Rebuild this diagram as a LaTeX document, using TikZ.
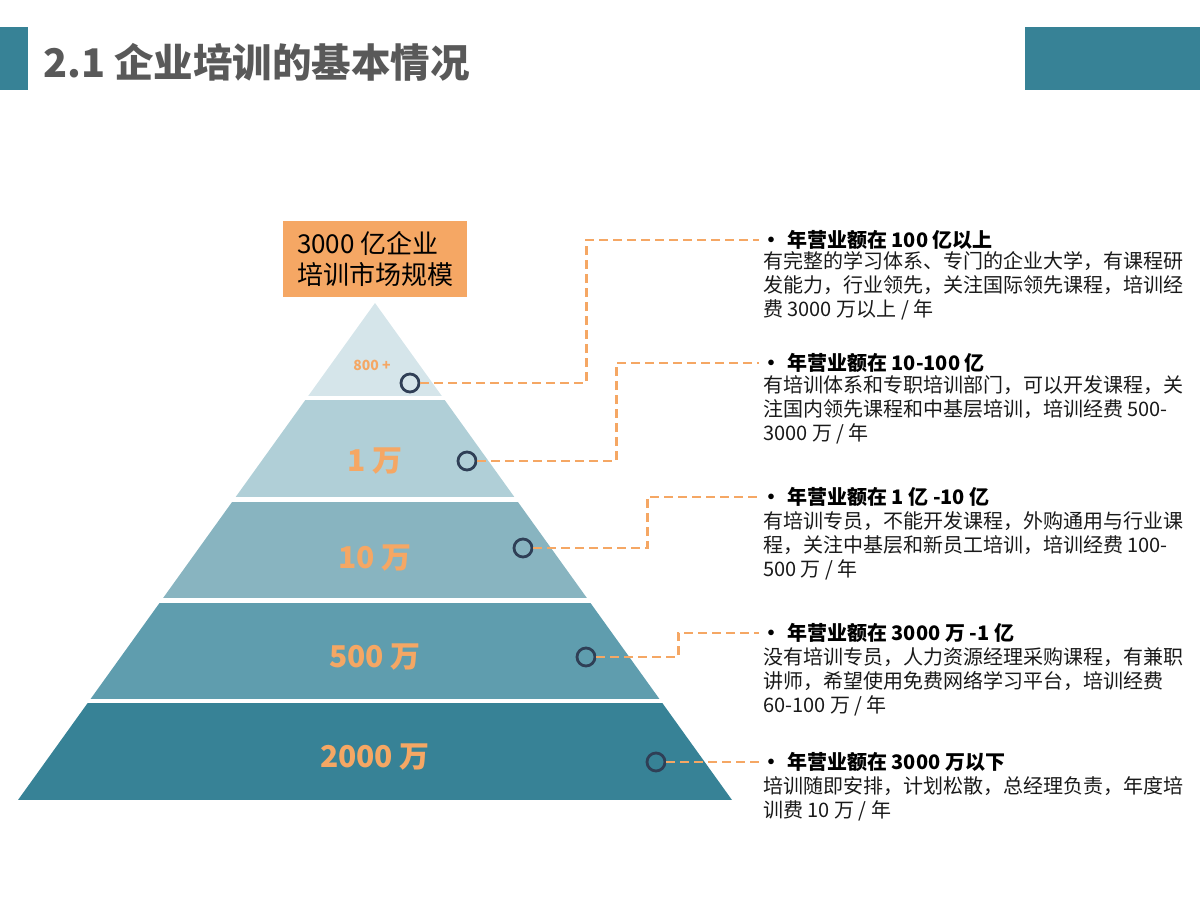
\documentclass[tikz,border=0pt]{standalone}
\usepackage{fontspec}
\setmainfont{Noto Sans CJK SC}
\usetikzlibrary{positioning}

\definecolor{bardeep}{RGB}{55,130,150}
\definecolor{tierA}{RGB}{213,229,234}
\definecolor{tierB}{RGB}{176,207,215}
\definecolor{tierC}{RGB}{136,180,192}
\definecolor{tierD}{RGB}{95,157,174}
\definecolor{tierE}{RGB}{55,130,150}
\definecolor{peach}{RGB}{245,167,100}
\definecolor{navyring}{RGB}{47,63,86}
\definecolor{titlegray}{RGB}{89,89,89}

\begin{document}
\begin{tikzpicture}[x=1pt, y=-1pt,
	ring/.style={circle, draw=navyring, line width=2.8pt, minimum size=18pt, inner sep=0},
	level/.style={text=peach, font=\fontsize{30}{30}\bfseries\selectfont},
	link/.style={peach, line width=2.2pt, dash pattern=on 9pt off 5pt},
	headline/.style={anchor=west, inner xsep=5pt, inner ysep=0, font=\fontsize{20}{24}\bfseries\selectfont},
	detail/.style={anchor=north west, inner sep=0, align=left, text=black!90, font=\fontsize{20}{24}\selectfont}]
	\useasboundingbox (0,0) rectangle (1200,900);

	%% Header bars and title
	\fill[bardeep] (0,27) rectangle (28,90);
	\fill[bardeep] (1025,27) rectangle (1200,90);
	\node at (43,62) [anchor=west, inner sep=0, text=titlegray, font=\fontsize{39.5}{40}\bfseries\selectfont] (title) {2.1 企业培训的基本情况};

	%% The pyramid -- one triangle cut into bands
	\begin{scope}
		\clip (375,303) -- (732,800) -- (18,800) -- cycle;
		\fill[tierA] (0,303) rectangle (1200,396);
		\fill[tierB] (0,400) rectangle (1200,497);
		\fill[tierC] (0,502) rectangle (1200,598);
		\fill[tierD] (0,603) rectangle (1200,699);
		\fill[tierE] (0,703) rectangle (1200,800);
	\end{scope}

	%% Market size box on top
	\node at (375,259) [fill=peach, minimum width=184pt, minimum height=76pt, align=left, font=\fontsize{26}{31}\selectfont] (market) {3000 亿企业\\培训市场规模};

	%% Band labels
	\node at (372,365) [text=peach, font=\fontsize{14}{14}\bfseries\selectfont] (top) {800 +};
	\node at (375,461) [level] (wan1) {1 万};
	\node at (375,558) [level] (wan10) {10 万};
	\node at (375,657) [level] (wan500) {500 万};
	\node at (375,757) [level] (wan2000) {2000 万};

	%% Rings on the bands
	\node at (410,383) [ring] (r1) {};
	\node at (467,461) [ring] (r2) {};
	\node at (523,548) [ring] (r3) {};
	\node at (586,657) [ring] (r4) {};
	\node at (656,762) [ring] (r5) {};

	%% Headings on the right
	\node at (759,240) [headline] (h1) {\makebox[23pt][l]{\hspace{-3pt}•}年营业额在 100 亿以上};
	\node at (759,363) [headline] (h2) {\makebox[23pt][l]{\hspace{-3pt}•}年营业额在 10-100 亿};
	\node at (759,497) [headline] (h3) {\makebox[23pt][l]{\hspace{-3pt}•}年营业额在 1 亿 -10 亿};
	\node at (759,633) [headline] (h4) {\makebox[23pt][l]{\hspace{-3pt}•}年营业额在 3000 万 -1 亿};
	\node at (759,762) [headline] (h5) {\makebox[23pt][l]{\hspace{-3pt}•}年营业额在 3000 万以下};

	%% Details under each heading
	\node at (763,251.5) [detail] (d1) {有完整的学习体系、专门的企业大学，有课程研\\发能力，行业领先，关注国际领先课程，培训经\\费 3000 万以上 / 年};
	\node at (763,375.5) [detail] (d2) {有培训体系和专职培训部门，可以开发课程，关\\注国内领先课程和中基层培训，培训经费 500-\\3000 万 / 年};
	\node at (763,511.5) [detail] (d3) {有培训专员，不能开发课程，外购通用与行业课\\程，关注中基层和新员工培训，培训经费 100-\\500 万 / 年};
	\node at (763,647.5) [detail] (d4) {没有培训专员，人力资源经理采购课程，有兼职\\讲师，希望使用免费网络学习平台，培训经费\\60-100 万 / 年};
	\node at (763,776.5) [detail] (d5) {培训随即安排，计划松散，总经理负责，年度培\\训费 10 万 / 年};

	%% Dashed leaders from rings to headings
	\draw [link] (r1.east) -- ++(166,0) |- (h1.west);
	\draw [link] (r2.east) -- ++(139,0) |- (h2.west);
	\draw [link] (r3.east) -- ++(114,0) |- (h3.west);
	\draw [link] (r4.east) -- ++(82,0) |- (h4.west);
	\draw [link] (r5.east) -- (h5.west);
\end{tikzpicture}
\end{document}
